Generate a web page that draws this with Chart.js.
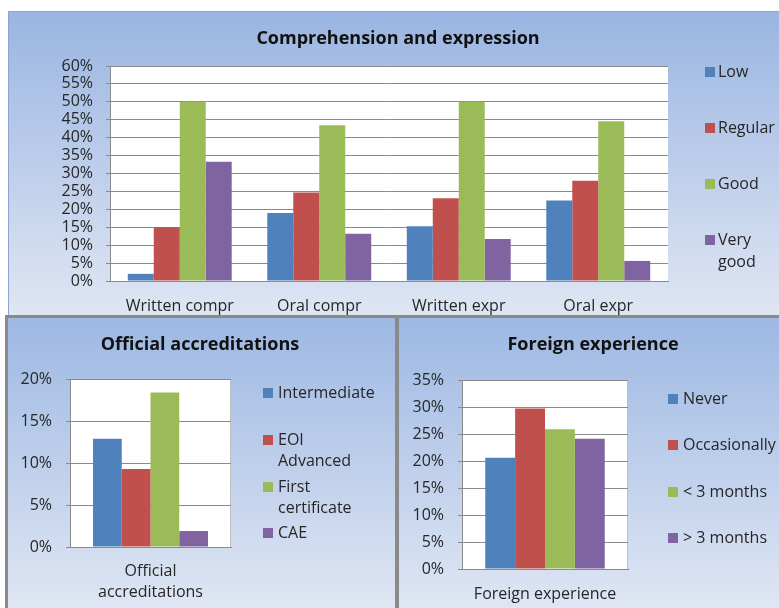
<!DOCTYPE html>
<html>
<head>
<meta charset="utf-8">
<script src="https://cdn.jsdelivr.net/npm/chart.js@4.4.0/dist/chart.umd.min.js"></script>
<style>
  html, body { margin: 0; padding: 0; background: #ffffff; }
  body { width: 779px; height: 608px; position: relative; overflow: hidden; }
  .frame { position: absolute; left: 5px; top: 315px; width: 774px; height: 293px; background: #8a8a8a; }
  .panel { position: absolute; }
  canvas { display: block; }
</style>
</head>
<body>
<div class="frame"></div>
<div class="panel" style="left:8px;top:11px;"><canvas id="skills" width="771" height="304"></canvas></div>
<div class="panel" style="left:8px;top:318px;"><canvas id="accreditations" width="387" height="290"></canvas></div>
<div class="panel" style="left:399px;top:318px;"><canvas id="abroad" width="380" height="290"></canvas></div>
<script>
// ---- Data -------------------------------------------------------------
const skillCategories = ["Written compr", "Oral compr", "Written expr", "Oral expr"];
const skillLevels = ["Low", "Regular", "Good", "Very good"];
const skillLow      = [2.0, 19.0, 15.3, 22.5];
const skillRegular  = [15.0, 24.7, 23.1, 28.0];
const skillGood     = [50.0, 43.5, 50.0, 44.6];
const skillVeryGood = [33.3, 13.2, 11.7, 5.6];
const skillTickMax = 60, skillTickStep = 5;

const accCategories = ["Official accreditations"];
const accLevels = ["Intermediate", "EOI Advanced", "First certificate", "CAE"];
const accValues = [12.9, 9.3, 18.4, 1.9];
const accTickMax = 20, accTickStep = 5;

const abroadCategories = ["Foreign experience"];
const abroadLevels = ["Never", "Occasionally", "< 3 months", "> 3 months"];
const abroadValues = [20.6, 29.7, 25.9, 24.1];
const abroadTickMax = 35, abroadTickStep = 5;

const seriesColors = ["#4f81bd", "#c0504d", "#9bbb59", "#8064a2"];
const FONT = "'Open Sans', 'Liberation Sans', sans-serif";

// ---- Plugins ----------------------------------------------------------
// Panel background: vertical blue gradient with white plot area.
const panelBackground = {
  id: 'panelBackground',
  beforeDraw(chart, args, opts) {
    const { ctx, width, height, chartArea: a } = chart;
    ctx.save();
    const g = ctx.createLinearGradient(0, 0, 0, height);
    g.addColorStop(0, opts.top || '#9db7e2');
    g.addColorStop(1, opts.bottom || '#dfe6f3');
    ctx.fillStyle = g;
    ctx.fillRect(0, 0, width, height);
    if (opts.edge) {
      ctx.strokeStyle = opts.edge;
      ctx.lineWidth = 1;
      ctx.beginPath();
      ctx.moveTo(0.5, height);
      ctx.lineTo(0.5, 0.5);
      ctx.lineTo(width, 0.5);
      ctx.stroke();
    }
    ctx.fillStyle = '#ffffff';
    ctx.fillRect(a.left, a.top, a.right - a.left, a.bottom - a.top);
    if (opts.plotBorder) {
      ctx.strokeStyle = opts.plotBorder;
      ctx.lineWidth = 1;
      ctx.strokeRect(Math.round(a.left) + 0.5, Math.round(a.top) + 0.5,
                     Math.round(a.right - a.left) - 1, Math.round(a.bottom - a.top));
    }
    ctx.restore();
  }
};

// Centered bold title.
const panelTitle = {
  id: 'panelTitle',
  afterDraw(chart, args, opts) {
    const ctx = chart.ctx;
    ctx.save();
    ctx.font = opts.font;
    ctx.fillStyle = '#111111';
    ctx.textAlign = 'center';
    ctx.textBaseline = 'middle';
    ctx.fillText(opts.text, opts.x, opts.y);
    ctx.restore();
  }
};

function wrapWords(ctx, text, maxWidth) {
  const words = text.split(' ');
  const lines = [];
  let cur = '';
  for (const w of words) {
    const test = cur ? cur + ' ' + w : w;
    if (cur && ctx.measureText(test).width > maxWidth) {
      lines.push(cur);
      cur = w;
    } else {
      cur = test;
    }
  }
  if (cur) lines.push(cur);
  return lines;
}

// Legend at the right of the plot, one square per dataset with wrapped text.
const sideLegend = {
  id: 'sideLegend',
  afterDraw(chart, args, opts) {
    const ctx = chart.ctx;
    ctx.save();
    ctx.font = opts.font;
    ctx.textBaseline = 'middle';
    ctx.textAlign = 'left';
    chart.data.datasets.forEach((ds, i) => {
      const y0 = opts.rows[i];
      ctx.fillStyle = ds.backgroundColor;
      ctx.fillRect(opts.boxX, y0 - opts.box / 2, opts.box, opts.box);
      ctx.fillStyle = '#262626';
      wrapWords(ctx, ds.label, opts.maxWidth).forEach((line, k) => {
        ctx.fillText(line, opts.textX, y0 + k * opts.lineHeight);
      });
    });
    ctx.restore();
  }
};

// ---- Chart factory ----------------------------------------------------
function buildChart(id, cfg) {
  const canvas = document.getElementById(id);
  const W = canvas.width, H = canvas.height;
  const p = cfg.plot;
  return new Chart(canvas, {
    type: 'bar',
    data: { labels: cfg.categories, datasets: cfg.datasets },
    options: {
      responsive: false,
      animation: false,
      events: [],
      layout: { padding: { top: p.top, right: W - p.right, left: 0, bottom: 0 } },
      datasets: { bar: { categoryPercentage: cfg.groupShare, barPercentage: 1.0, borderWidth: 0 } },
      scales: {
        x: {
          grid: { display: false, drawTicks: false },
          border: { display: true, color: '#8a8a8a', width: 1 },
          ticks: {
            padding: cfg.xPad,
            color: '#262626',
            font: { family: FONT, size: cfg.tickSize, lineHeight: 1.3 },
            callback(v) {
              const s = this.getLabelForValue(v);
              return cfg.wrapCategory ? s.split(' ') : s;
            }
          },
          afterFit(scale) { scale.height = H - p.bottom; }
        },
        y: {
          min: 0,
          max: cfg.yMax,
          ticks: {
            stepSize: cfg.yStep,
            autoSkip: false,
            padding: cfg.yPad,
            color: '#262626',
            font: { family: FONT, size: cfg.tickSize },
            callback: v => v + '%'
          },
          grid: { color: '#8a8a8a', lineWidth: 1, tickLength: 4, drawTicks: true },
          border: { display: true, color: '#8a8a8a', width: 1 },
          afterFit(scale) { scale.width = p.left; }
        }
      },
      plugins: {
        legend: { display: false },
        tooltip: { enabled: false },
        title: { display: false },
        panelBackground: cfg.background,
        panelTitle: cfg.title,
        sideLegend: cfg.legend
      }
    },
    plugins: [panelBackground, panelTitle, sideLegend]
  });
}

function singleGroup(levels, values) {
  return levels.map((name, i) => ({
    label: name,
    data: [values[i]],
    backgroundColor: seriesColors[i]
  }));
}

buildChart('skills', {
  categories: skillCategories,
  datasets: [skillLow, skillRegular, skillGood, skillVeryGood].map((vals, i) => ({
    label: skillLevels[i], data: vals, backgroundColor: seriesColors[i]
  })),
  yMax: skillTickMax, yStep: skillTickStep,
  plot: { left: 102, right: 660, top: 55, bottom: 270 },
  groupShare: 0.745,
  tickSize: 16, xPad: 15, yPad: 13,
  background: { top: '#9ab5e2', bottom: '#dfe6f3', edge: '#8ea4cc' },
  title: { text: 'Comprehension and expression', x: 390, y: 28, font: `bold 18px ${FONT}` },
  legend: { boxX: 697, textX: 710, box: 10, rows: [61, 117, 173, 229], lineHeight: 22, maxWidth: 62, font: `16px ${FONT}` }
});

buildChart('accreditations', {
  categories: accCategories,
  datasets: singleGroup(accLevels, accValues),
  yMax: accTickMax, yStep: accTickStep,
  plot: { left: 62, right: 223, top: 61, bottom: 229 },
  groupShare: 0.714,
  tickSize: 16, xPad: 14, yPad: 14,
  background: { top: '#9db8e3', bottom: '#dfe6f3', plotBorder: '#bfbfbf' },
  title: { text: 'Official accreditations', x: 192, y: 27, font: `bold 18px ${FONT}` },
  legend: { boxX: 255, textX: 270, box: 10, rows: [75, 122, 169, 215], lineHeight: 21, maxWidth: 90, font: `16px ${FONT}` },
  wrapCategory: true
});

buildChart('abroad', {
  categories: abroadCategories,
  datasets: singleGroup(abroadLevels, abroadValues),
  yMax: abroadTickMax, yStep: abroadTickStep,
  plot: { left: 63, right: 229, top: 62, bottom: 251 },
  groupShare: 0.72,
  tickSize: 16, xPad: 15, yPad: 14,
  background: { top: '#9db8e3', bottom: '#dfe6f3', plotBorder: '#bfbfbf' },
  title: { text: 'Foreign experience', x: 194, y: 27, font: `bold 18px ${FONT}` },
  legend: { boxX: 269, textX: 284, box: 10, rows: [81, 127, 174, 220], lineHeight: 21, maxWidth: 120, font: `16px ${FONT}` }
});
</script>
</body>
</html>
